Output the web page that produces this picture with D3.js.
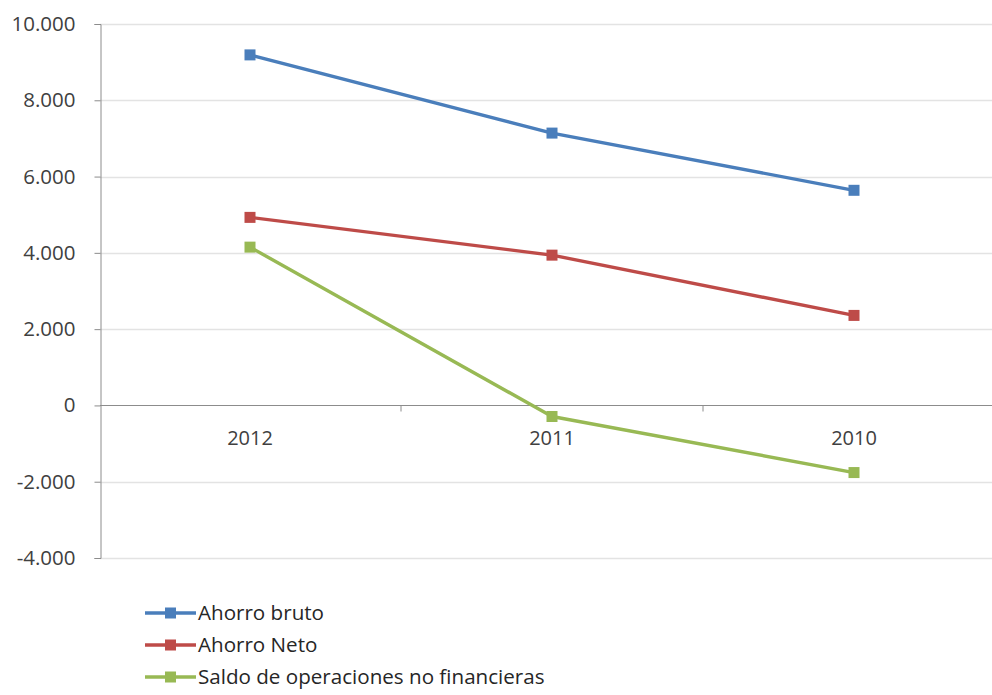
<!DOCTYPE html>
<html>
<head>
<meta charset="utf-8">
<script src="https://cdn.jsdelivr.net/npm/d3@7"></script>
<style>
  body { margin: 0; background: #fff; }
  svg { display: block; font-family: "Open Sans", Lato, sans-serif; }
</style>
</head>
<body>
<svg id="chart"></svg>
<script>
// data
const years = ["2012", "2011", "2010"];
const ahorroBruto = [9190, 7140, 5640];
const ahorroNeto = [4930, 3940, 2360];
const saldoOperaciones = [4150, -290, -1760];
const seriesNames = ["Ahorro bruto", "Ahorro Neto", "Saldo de operaciones no financieras"];
const seriesColors = ["#4A7EBB", "#BE4B48", "#98B954"];
const yTicks = [-4000, -2000, 0, 2000, 4000, 6000, 8000, 10000];

const width = 992;
const height = 695;

const svg = d3.select("#chart")
  .attr("width", width)
  .attr("height", height);

const x = d3.scaleBand()
  .domain(years)
  .range([99, 1005])
  .padding(0);

const y = d3.scaleLinear()
  .domain([-4000, 10000])
  .range([558, 24]);

const locale = d3.formatLocale({ decimal: ",", thousands: ".", grouping: [3], currency: ["", ""], minus: "-" });
const fmt = locale.format(",d");

// horizontal gridlines
svg.append("g")
  .selectAll("line")
  .data(yTicks.filter(d => d !== 0))
  .enter()
  .append("line")
  .attr("x1", 100)
  .attr("x2", width)
  .attr("y1", d => Math.round(y(d)) + 0.5)
  .attr("y2", d => Math.round(y(d)) + 0.5)
  .attr("stroke", "#E3E3E3")
  .attr("stroke-width", 1.5);

// y axis
const yAxis = svg.append("g")
  .attr("transform", "translate(100.5,0)")
  .call(d3.axisLeft(y).tickValues(yTicks).tickFormat(fmt).tickSize(6).tickPadding(19));
yAxis.select(".domain").attr("stroke", "#8C8C8C");
yAxis.selectAll(".tick line").attr("stroke", "#8C8C8C");
yAxis.selectAll(".tick text")
  .attr("fill", "#404040")
  .style("font-size", "20.5px")
  .style("font-family", "'Open Sans', sans-serif");

// x axis at zero
const xAxisG = svg.append("g")
  .attr("transform", `translate(0,${Math.round(y(0)) + 0.5})`);
xAxisG.append("line")
  .attr("x1", 100)
  .attr("x2", width)
  .attr("stroke", "#8C8C8C");
xAxisG.selectAll(".xtick")
  .data(years.slice(1))
  .enter()
  .append("line")
  .attr("class", "xtick")
  .attr("x1", d => x(d))
  .attr("x2", d => x(d))
  .attr("y1", 0)
  .attr("y2", 6)
  .attr("stroke", "#8C8C8C");
xAxisG.selectAll("text")
  .data(years)
  .enter()
  .append("text")
  .attr("x", d => x(d) + x.bandwidth() / 2)
  .attr("y", 39)
  .attr("text-anchor", "middle")
  .attr("fill", "#404040")
  .style("font-size", "20px")
  .text(d => d);

// lines
const allSeries = [ahorroBruto, ahorroNeto, saldoOperaciones];
const line = d3.line()
  .x((d, i) => x(years[i]) + x.bandwidth() / 2)
  .y(d => y(d));

allSeries.forEach((values, s) => {
  const g = svg.append("g");
  g.append("path")
    .datum(values)
    .attr("d", line)
    .attr("fill", "none")
    .attr("stroke", seriesColors[s])
    .attr("stroke-width", 3.4)
    .attr("stroke-linejoin", "round");
  g.selectAll("rect")
    .data(values)
    .enter()
    .append("rect")
    .attr("x", (d, i) => x(years[i]) + x.bandwidth() / 2 - 5.5)
    .attr("y", d => y(d) - 5.5)
    .attr("width", 11)
    .attr("height", 11)
    .attr("fill", seriesColors[s]);
});

// legend
const legend = svg.append("g")
  .selectAll("g")
  .data(seriesNames)
  .enter()
  .append("g")
  .attr("transform", (d, i) => `translate(145,${613 + i * 32})`);

legend.append("line")
  .attr("x1", 0)
  .attr("x2", 51)
  .attr("stroke", (d, i) => seriesColors[i])
  .attr("stroke-width", 3.4);
legend.append("rect")
  .attr("x", 20)
  .attr("y", -5.5)
  .attr("width", 11)
  .attr("height", 11)
  .attr("fill", (d, i) => seriesColors[i]);
legend.append("text")
  .attr("x", 53)
  .attr("y", 7)
  .attr("fill", "#262626")
  .style("font-size", "20.6px")
  .text(d => d);
</script>
</body>
</html>
